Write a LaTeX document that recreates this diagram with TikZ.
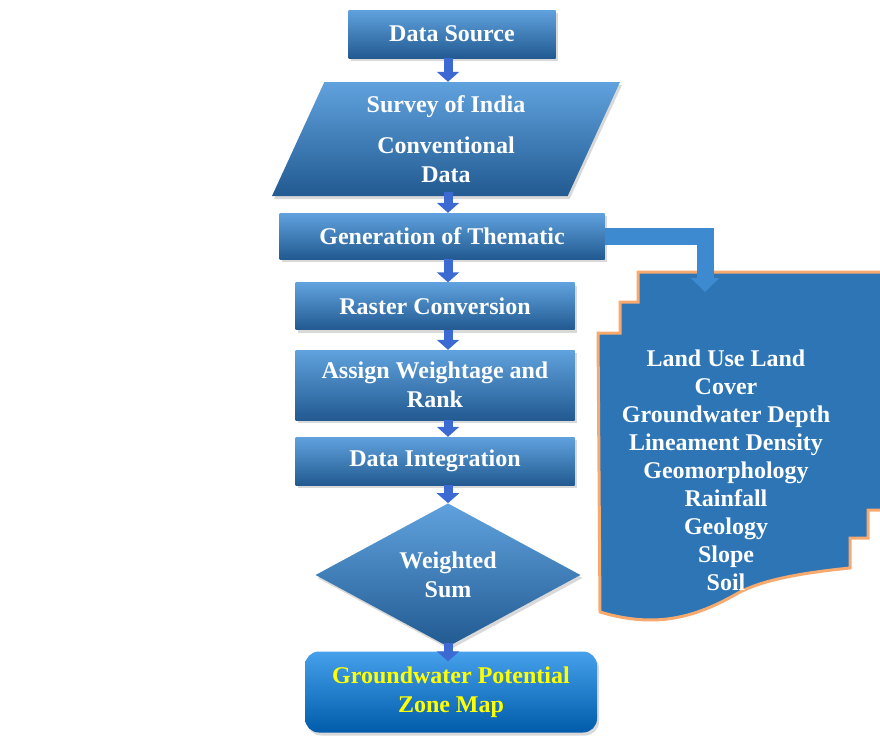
\documentclass[tikz,border=0pt]{standalone}
\usepackage{fontspec}
\setmainfont{Liberation Serif}
\usetikzlibrary{shapes.geometric,arrows.meta,shadows}

\definecolor{boxmid}{RGB}{46,117,182}
\definecolor{boxtop}{RGB}{96,162,222}
\definecolor{boxbot}{RGB}{34,90,145}
\definecolor{arrblue}{RGB}{60,106,210}
\definecolor{elbow}{RGB}{62,138,208}
\definecolor{maptop}{RGB}{70,160,235}
\definecolor{mapmid}{RGB}{20,118,200}
\definecolor{mapbot}{RGB}{0,92,170}
\definecolor{glow}{RGB}{248,170,110}
\definecolor{zonetext}{RGB}{255,255,0}

\begin{document}
\begin{tikzpicture}[x=1pt,y=-1pt,
    bbox/.style={draw=none,top color=boxtop,middle color=boxmid,bottom color=boxbot,
        text=white,font=\fontsize{24}{29}\selectfont\bfseries,align=center,inner sep=0pt,
        drop shadow={shadow xshift=2pt,shadow yshift=-3pt,opacity=0.3}},
    blk/.style={draw=arrblue,line width=9pt,-{Triangle[width=22pt,length=10pt]}}]
    \useasboundingbox (0,0) rectangle (880,736);

    % layer list on the right
    \fill[boxmid,draw=glow,line width=3pt] (638,272) -- (886,272) -- (886,510) -- (868,510)
        -- (868,538) -- (850,538) -- (850,568) .. controls (790,574) and (760,582) .. (740,592)
        .. controls (700,615) and (660,630) .. (600,612) -- (598,333) -- (620,333) -- (620,302)
        -- (638,302) -- cycle;
    \node[text=white,align=center,font=\fontsize{24}{28}\selectfont\bfseries] (docs) at (726,470)
        {Land Use Land\\Cover\\Groundwater Depth\\Lineament Density\\Geomorphology\\Rainfall\\Geology\\Slope\\Soil};

    \node[bbox,minimum width=207pt,minimum height=48pt] (src) at (452,34) {Data Source};
    \node[bbox,trapezium,trapezium left angle=59,trapezium right angle=121,trapezium stretches body,
        minimum width=348pt,minimum height=114pt] (survey) at (446,139)
        {Survey of India\\[12pt]Conventional\\Data};
    \node[bbox,minimum width=325pt,minimum height=46pt] (gen) at (442,236) {Generation of Thematic};
    \node[bbox,minimum width=279pt,minimum height=47pt] (raster) at (435,306) {Raster Conversion};
    \node[bbox,minimum width=279pt,minimum height=70pt] (assign) at (435,385) {Assign Weightage and\\Rank};
    \node[bbox,minimum width=279pt,minimum height=48pt] (integ) at (435,461) {Data Integration};
    \node[bbox,diamond,minimum width=265pt,minimum height=136pt] (wsum) at (448,575) {Weighted\\Sum};
    \node[bbox,top color=maptop,middle color=mapmid,bottom color=mapbot,
        text=zonetext,rounded corners=14pt,minimum width=292pt,minimum height=81pt] (zone) at (451,692)
        {Groundwater Potential\\Zone Map};

    \coordinate (ax) at (448,0);
    \coordinate (tip) at (705,292);

    \draw[draw=elbow,line width=17pt,-{Triangle[width=28pt,length=14pt]}] (gen.east) -| (tip);

    \draw[blk] (src.south -| ax) -- (survey.north -| ax);
    \draw[blk] ([yshift=4pt]survey.south -| ax) -- (gen.north -| ax);
    \draw[blk] (gen.south -| ax) -- (raster.north -| ax);
    \draw[blk] (raster.south -| ax) -- (assign.north -| ax);
    \draw[blk] (assign.south -| ax) -- (integ.north -| ax);
    \draw[blk] (integ.south -| ax) -- (wsum.north);
    \draw[blk] ([yshift=4pt]wsum.south) -- ([yshift=-10pt]zone.north -| ax);
\end{tikzpicture}
\end{document}
